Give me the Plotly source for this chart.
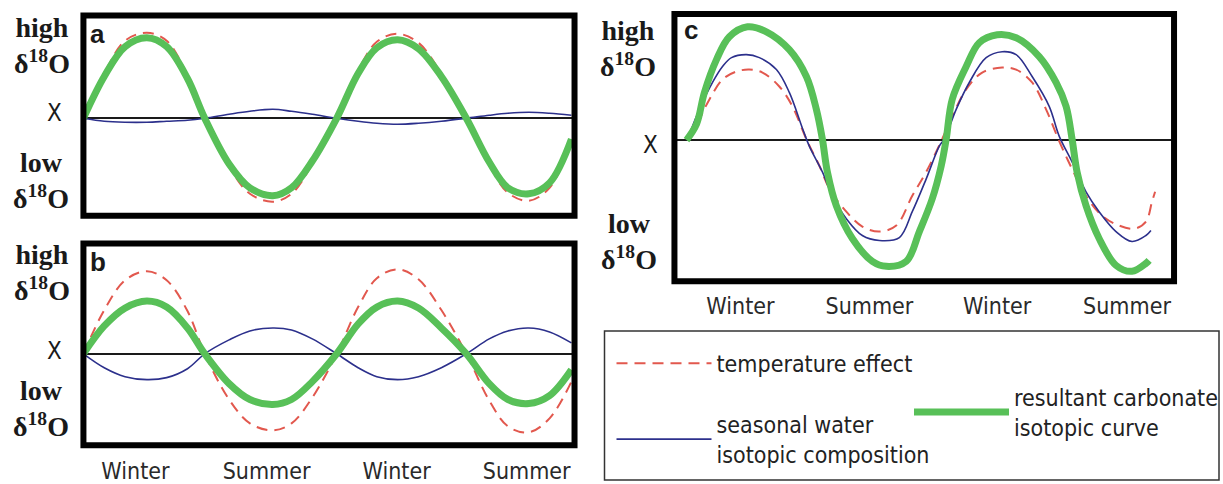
import plotly.graph_objects as go

# ---------------- data ----------------
# time in months from the first zero crossing (panels a and b share sampling)
t_ab = [0, 1.0, 2.0, 3.05, 4.0, 5.0, 5.83, 7.0, 8.0, 9.1, 10.0, 11.0, 12.17,
        13.2, 14.1, 15.1, 16.1, 17.2, 18.4, 19.5, 20.4, 21.4, 22.4, 23.45]

a_temp = [0, 4.5, 7.8, 8.6, 7.8, 4.3, 0, -4.9, -7.6, -8.4, -7.6, -4.6, 0,
          4.8, 7.7, 8.5, 7.6, 4.5, 0, -4.7, -7.5, -8.3, -7.0, -2.3]
a_water = [0, -0.3, -0.4, -0.4, -0.3, -0.2, 0, 0.4, 0.7, 0.9, 0.7, 0.4, 0,
           -0.3, -0.5, -0.6, -0.5, -0.3, 0, 0.3, 0.5, 0.6, 0.5, 0.3]
a_carb = [0, 4.2, 7.2, 8.1, 7.2, 4.0, 0, -4.6, -7.0, -7.8, -7.0, -4.3, 0,
          4.5, 7.1, 7.9, 7.0, 4.2, 0, -4.4, -7.0, -7.6, -6.5, -2.1]

b_temp = [0, 4.4, 7.4, 8.3, 7.4, 4.3, 0, -4.6, -7.0, -7.7, -7.0, -4.4, 0,
          4.7, 7.6, 8.5, 7.5, 4.4, 0, -4.7, -7.3, -7.9, -6.5, -2.8]
b_water = [0, -1.4, -2.3, -2.6, -2.4, -1.5, 0, 1.4, 2.3, 2.6, 2.4, 1.5, 0,
           -1.4, -2.3, -2.6, -2.3, -1.4, 0, 1.5, 2.3, 2.6, 2.2, 1.1]
b_carb = [0, 2.8, 4.6, 5.3, 4.7, 2.6, 0, -3.0, -4.6, -5.1, -4.6, -2.8, 0,
          3.0, 4.7, 5.3, 4.6, 2.6, 0, -3.0, -4.6, -5.0, -4.2, -1.6]

# panel c, each curve with its own sampling
c_temp_t = [0.14, 0.62, 1.1, 1.73, 2.4, 3.02, 3.65, 4.46, 5.09, 5.76, 6.39, 6.87,
            7.68, 8.45, 9.27, 10.08, 10.85, 11.52, 12.24, 12.77, 13.44, 14.21,
            15.17, 15.84, 16.61, 17.28, 17.91, 18.53, 19.2, 19.97, 20.79, 21.55,
            22.08, 22.37, 22.52]
c_temp = [0.1, 2.1, 4.1, 6.1, 6.9, 7.1, 6.8, 5.4, 3.4, 0.1, -2.6, -4.9,
          -7.2, -8.7, -9.2, -8.6, -5.6, -3.2, -0.1, 2.4, 5.1, 6.8,
          7.3, 7.1, 5.8, 3.1, -0.1, -2.9, -5.6, -7.6, -8.6, -8.9,
          -8.2, -6.2, -5.2]

c_water_t = [0.05, 0.62, 1.25, 1.73, 2.16, 2.88, 3.5, 4.32, 4.94, 5.57, 5.9, 6.53,
             7.01, 7.68, 8.45, 9.27, 10.23, 10.85, 11.52, 12.15, 12.39, 12.96,
             13.59, 14.4, 15.17, 15.84, 16.61, 17.43, 17.91, 18.53, 19.2, 19.83,
             20.64, 21.41, 22.08, 22.32]
c_water = [0.1, 3.1, 5.8, 7.4, 8.3, 8.6, 8.3, 7.1, 4.8, 1.2, -0.6, -3.2,
           -5.6, -7.9, -9.6, -10.1, -9.8, -7.2, -3.9, -0.6, 0.1, 3.1,
           5.8, 8.3, 8.9, 8.6, 6.4, 3.4, 0.4, -2.2, -5.2, -7.2,
           -9.2, -10.2, -9.6, -9.1]

c_carb_t = [0, 0.48, 0.86, 1.44, 2.06, 2.93, 3.84, 4.94, 5.76, 6.24, 6.53, 6.77,
            7.2, 7.97, 8.93, 9.6, 10.56, 11.19, 11.81, 12.24, 12.48, 12.77,
            13.44, 14.07, 14.93, 15.84, 16.95, 17.76, 18.24, 18.53, 18.77, 19.2,
            19.83, 20.64, 21.41, 22.08, 22.23]
c_carb = [0, 1.6, 4.8, 8.1, 10.4, 11.4, 10.9, 9.1, 6.4, 3.1, 0.1, -3.2,
          -6.6, -9.9, -12.2, -12.7, -12.2, -9.2, -5.9, -2.6, 0.1, 4.1,
          7.4, 9.8, 10.6, 10.3, 8.4, 5.8, 3.4, 0.1, -3.2, -6.6,
          -9.9, -12.6, -13.2, -12.4, -12.1]

season_labels = ["Winter", "Summer", "Winter", "Summer"]
season_ticks_ab = [2.5, 8.8, 15.05, 21.3]
season_ticks_c = [2.59, 8.79, 14.93, 21.17]

series_names = ["temperature effect",
                "seasonal water<br>isotopic composition",
                "resultant carbonate<br>isotopic curve"]

# ---------------- styling ----------------
W, H = 1223, 484
RED = "rgb(226,88,78)"
BLUE = "rgb(44,48,140)"
GREEN = "rgb(88,192,88)"
COND = "DejaVu Sans Condensed, Liberation Sans Narrow, Roboto, sans-serif"
SERIF = "Liberation Serif, Times New Roman, serif"
SANS = "Liberation Sans, Arial, sans-serif"


def px_x(p):
    return p / W


def px_y(p):
    return 1 - p / H


fig = go.Figure()

panels = [
    ("x", "y", t_ab, a_temp, t_ab, a_water, t_ab, a_carb),
    ("x2", "y2", t_ab, b_temp, t_ab, b_water, t_ab, b_carb),
    ("x3", "y3", c_temp_t, c_temp, c_water_t, c_water, c_carb_t, c_carb),
]
for i, (xr, yr, tt, yt, tw, yw, tc, yc) in enumerate(panels):
    show = i == 2
    fig.add_trace(go.Scatter(x=tt, y=yt, xaxis=xr, yaxis=yr, mode="lines",
                             line=dict(color=RED, width=2, dash="11px,7px", shape="spline"),
                             name=series_names[0], showlegend=show, legend="legend",
                             legendgroup="temp"))
    fig.add_trace(go.Scatter(x=tw, y=yw, xaxis=xr, yaxis=yr, mode="lines",
                             line=dict(color=BLUE, width=1.6, shape="spline"),
                             name=series_names[1], showlegend=show, legend="legend",
                             legendgroup="water"))
    fig.add_trace(go.Scatter(x=tc, y=yc, xaxis=xr, yaxis=yr, mode="lines",
                             line=dict(color=GREEN, width=7, shape="spline"),
                             name=series_names[2], showlegend=show, legend="legend2",
                             legendgroup="carb"))

common_x = dict(showgrid=False, zeroline=False, showline=False, ticks="",
                fixedrange=True)
common_y = dict(showgrid=False, zeroline=True, zerolinecolor="#1a1a1a",
                zerolinewidth=1.6, showline=False, ticks="", showticklabels=False,
                fixedrange=True)
tickfont = dict(family=COND, size=23, color="#2a2a2a")
legfont = dict(family=COND, size=23, color="#222")

fig.update_layout(
    width=W, height=H,
    margin=dict(l=0, r=0, t=0, b=0),
    paper_bgcolor="white", plot_bgcolor="white",
    xaxis=dict(domain=[px_x(83.5), px_x(575)], range=[0, 23.6],
               showticklabels=False, anchor="y", **common_x),
    yaxis=dict(domain=[px_y(217), px_y(15.5)], range=[-9.8, 10.35],
               anchor="x", **common_y),
    xaxis2=dict(domain=[px_x(83.5), px_x(575)], range=[0, 23.6], anchor="y2",
                tickvals=season_ticks_ab, ticktext=season_labels,
                tickfont=tickfont, ticklabelstandoff=10, **common_x),
    yaxis2=dict(domain=[px_y(448), px_y(245)], range=[-9.2, 11.1],
                anchor="x2", **common_y),
    xaxis3=dict(domain=[px_x(675), px_x(1175)], range=[-0.58, 23.43], anchor="y3",
                tickvals=season_ticks_c, ticktext=season_labels,
                tickfont=tickfont, ticklabelstandoff=9, **common_x),
    yaxis3=dict(domain=[px_y(283), px_y(14)], range=[-14.2, 12.7],
                anchor="x3", **common_y),
    legend=dict(x=px_x(612), y=px_y(344), xanchor="left", yanchor="top",
                font=legfont, bgcolor="rgba(0,0,0,0)", itemwidth=95,
                traceorder="grouped", tracegroupgap=28),
    legend2=dict(x=px_x(910), y=px_y(378), xanchor="left", yanchor="top",
                 font=legfont, bgcolor="rgba(0,0,0,0)", itemwidth=95),
)

# panel frames and legend frame
for xr, yr in [("x", "y"), ("x2", "y2"), ("x3", "y3")]:
    fig.add_shape(type="rect", xref=f"{xr} domain", yref=f"{yr} domain",
                  x0=0, x1=1, y0=0, y1=1, line=dict(color="black", width=6),
                  layer="above")
fig.add_shape(type="rect", xref="paper", yref="paper",
              x0=px_x(605), x1=px_x(1220), y0=px_y(483), y1=px_y(333),
              line=dict(color="#333", width=1.5))

# left-hand labels
d18 = "\u03b4<sup>18</sup>O"
serif_font = dict(family=SERIF, size=28, color="#1a1a1a", weight="bold")
x_font = dict(family=COND, size=24, color="#1a1a1a")
left_labels = [
    # (text, x px, y px, font)
    ("high<br>" + d18, 42, 46, serif_font), ("X", 55, 114, x_font),
    ("low<br>" + d18, 41, 182, serif_font),
    ("high<br>" + d18, 42, 274, serif_font), ("X", 55, 353, x_font),
    ("low<br>" + d18, 41, 411, serif_font),
    ("high<br>" + d18, 629, 49, serif_font), ("X", 651, 146, x_font),
    ("low<br>" + d18, 630, 243, serif_font),
]
for text, xp, yp, f in left_labels:
    fig.add_annotation(text=text, x=px_x(xp), y=px_y(yp), xref="paper", yref="paper",
                       xanchor="center", yanchor="middle", align="center",
                       showarrow=False, font=f)

for text, xp, yp in [("a", 98, 34), ("b", 98, 264), ("c", 692, 30)]:
    fig.add_annotation(text=text, x=px_x(xp), y=px_y(yp), xref="paper", yref="paper",
                       xanchor="center", yanchor="middle", showarrow=False,
                       font=dict(family=SANS, size=26, color="#1a1a1a", weight="bold"))

fig.write_html("out.html", config={"displayModeBar": False},
               post_script="document.body.style.margin='0';")
